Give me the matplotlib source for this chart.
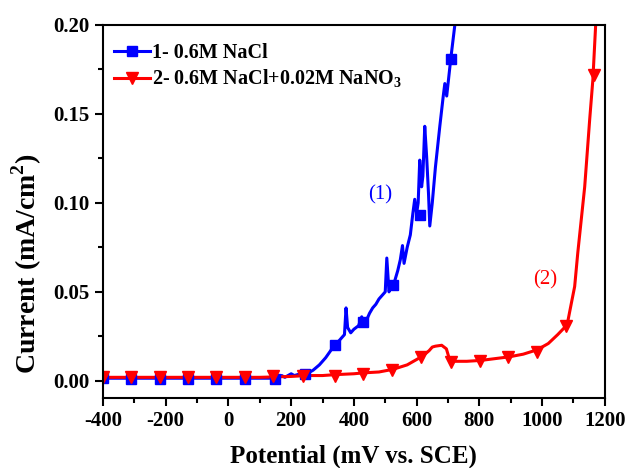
import numpy as np
import matplotlib.pyplot as plt
from matplotlib.ticker import MultipleLocator

plt.rcParams['font.family'] = 'Liberation Serif'
plt.rcParams['font.weight'] = 'bold'
plt.rcParams['mathtext.fontset'] = 'custom'
plt.rcParams['mathtext.rm'] = 'Liberation Serif'
plt.rcParams['mathtext.bf'] = 'Liberation Serif:bold'
plt.rcParams['axes.unicode_minus'] = False

# curve 1: 0.6M NaCl
e1 = [-400, -300, -200, -100, 0, 100, 150, 170, 180, 200, 210, 230, 250, 270, 290, 310,
      330, 345, 360, 370, 375, 380, 390, 400, 415, 425, 430, 440, 450, 460, 470, 480,
      490, 500, 505, 512, 520, 530, 540, 548, 555, 560, 570, 580, 588, 594, 600, 605,
      610, 616, 620, 626, 632, 638, 642, 650, 660, 674, 685, 690, 696, 709, 722]
i1 = [0.0015, 0.0015, 0.0015, 0.0015, 0.0015, 0.0015, 0.0015, 0.003, 0.002, 0.004, 0.003,
      0.004, 0.004, 0.006, 0.009, 0.013, 0.018, 0.021, 0.024, 0.026, 0.041, 0.030, 0.027,
      0.029, 0.031, 0.036, 0.033, 0.034, 0.038, 0.041, 0.043, 0.046, 0.048, 0.050, 0.069,
      0.050, 0.054, 0.056, 0.062, 0.068, 0.076, 0.066, 0.075, 0.082, 0.094, 0.102, 0.094,
      0.100, 0.124, 0.109, 0.115, 0.143, 0.126, 0.105, 0.087, 0.100, 0.120, 0.143, 0.160,
      0.167, 0.160, 0.181, 0.200]
m1_e = [-400, -311, -218, -129, -40, 53, 150, 244, 339, 429, 524, 612, 709]
m1_i = [0.0015, 0.001, 0.001, 0.001, 0.001, 0.001, 0.001, 0.004, 0.020, 0.033, 0.054, 0.093, 0.181]

# curve 2: 0.6M NaCl + 0.02M NaNO3
e2 = [-400, -300, -200, -100, 0, 100, 200, 250, 300, 340, 400, 430, 480, 525, 570, 600,
      620, 640, 650, 660, 680, 695, 700, 705, 715, 760, 805, 850, 895, 940, 985, 1020,
      1050, 1080, 1095, 1104, 1114, 1136, 1152, 1162, 1171]
i2 = [0.002, 0.002, 0.002, 0.002, 0.002, 0.002, 0.0025, 0.003, 0.003, 0.0035, 0.004,
      0.0045, 0.005, 0.0065, 0.009, 0.012, 0.014, 0.017, 0.019, 0.0195, 0.020, 0.018,
      0.015, 0.012, 0.011, 0.011, 0.0115, 0.0125, 0.0135, 0.015, 0.0175, 0.021, 0.026,
      0.0315, 0.045, 0.053, 0.072, 0.109, 0.147, 0.169, 0.200]
m2_e = [-400, -311, -218, -129, -40, 53, 142, 237, 339, 429, 521, 613, 709, 802, 891, 983, 1076, 1165]
m2_i = [0.002, 0.002, 0.002, 0.002, 0.002, 0.002, 0.0025, 0.003, 0.003, 0.004, 0.006,
        0.0135, 0.0105, 0.011, 0.0135, 0.0165, 0.031, 0.172]

labels = ['1- 0.6M NaCl', r'2- 0.6M NaCl+0.02M NaNO$_\mathbf{3}$']

fig = plt.figure(figsize=(6.28, 4.68), dpi=100)
ax = fig.add_axes([0.164, 0.150, 0.799, 0.797])

ax.plot(e1, i1, color='#0000ff', lw=2.2)
ax.plot(e2, i2, color='#ff0000', lw=2.2)
ax.plot(m1_e, m1_i, ls='none', marker='s', ms=7, color='#0000ff')
ax.plot(m2_e, m2_i, ls='none', marker='v', ms=9, color='#ff0000')

# legend proxies
h1, = ax.plot([], [], color='#0000ff', lw=2.2, marker='s', ms=7)
h2, = ax.plot([], [], color='#ff0000', lw=2.2, marker='v', ms=9)
ax.legend([h1, h2], labels, loc='upper left', frameon=False, fontsize=14.5,
          handlelength=1.8, handletextpad=0.12, labelspacing=0.22,
          borderaxespad=0.0, bbox_to_anchor=(0.005, 0.972))

ax.text(483, 0.1045, '(1)', color='#0000ff', fontsize=15, fontweight='normal',
        ha='center', va='center')
ax.text(1009, 0.057, '(2)', color='#ff0000', fontsize=15, fontweight='normal',
        ha='center', va='center')

ax.set_xlim(-400, 1200)
ax.set_ylim(-0.0095, 0.2)
ax.xaxis.set_major_locator(MultipleLocator(200))
ax.xaxis.set_minor_locator(MultipleLocator(100))
ax.yaxis.set_major_locator(MultipleLocator(0.05))
ax.yaxis.set_minor_locator(MultipleLocator(0.025))
ax.yaxis.set_major_formatter(plt.FormatStrFormatter('%.2f'))
ax.tick_params(which='major', direction='out', length=6, width=1.5, labelsize=15)
ax.tick_params(which='minor', direction='out', length=3.5, width=1.5)
for s in ax.spines.values():
    s.set_linewidth(1.5)

ax.set_xlabel('Potential (mV vs. SCE)', fontsize=18, fontweight='bold', labelpad=10)
ax.set_ylabel(r'Current (mA/cm$^\mathbf{2}$)', fontsize=20, fontweight='bold')
ax.yaxis.set_label_coords(-0.118, 0.36)

fig.savefig('out.png', dpi=100)
